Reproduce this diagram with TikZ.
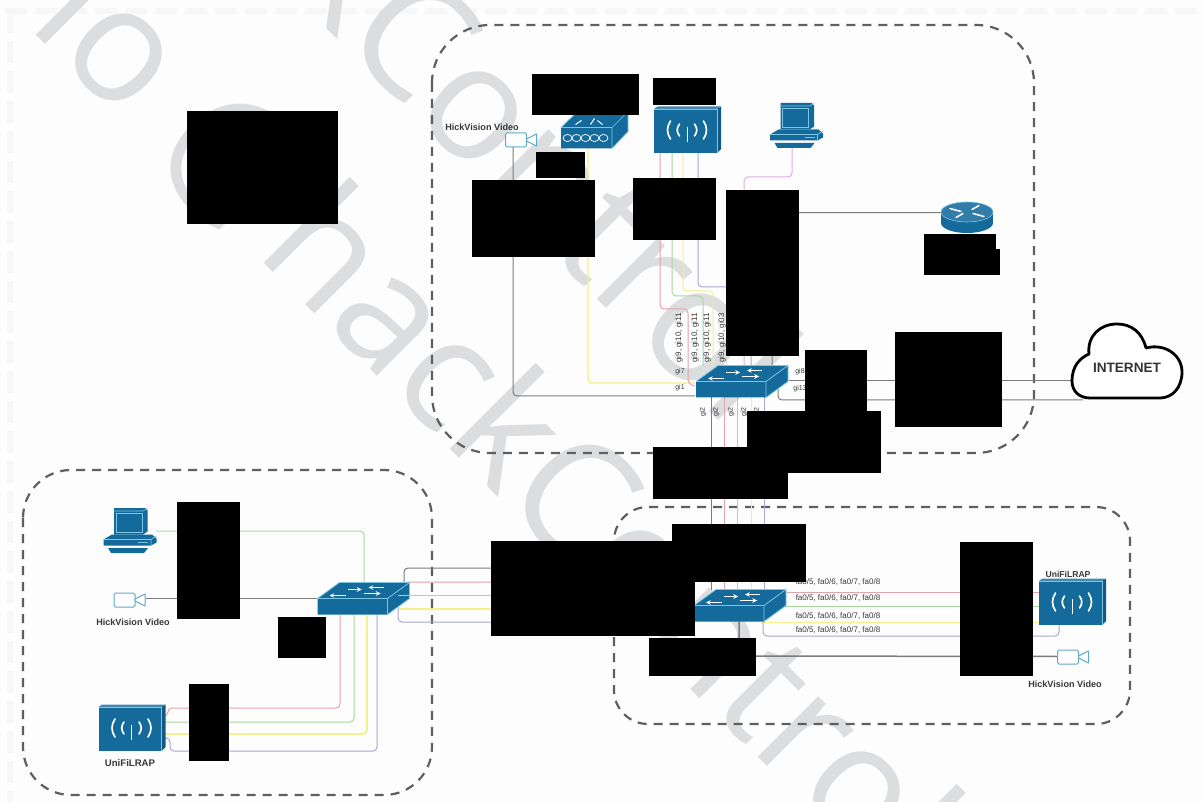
\documentclass[tikz,border=0pt]{standalone}
\usepackage{fontspec}
\setmainfont{Liberation Sans}
\newfontfamily\wmfont{Open Sans}
\definecolor{ciscoblue}{HTML}{156A9C}
\definecolor{ciscoedge}{HTML}{7CC6E4}
\definecolor{camblue}{HTML}{5FA9C9}
\definecolor{lred}{HTML}{E4A3AC}
\definecolor{lgreen}{HTML}{A9D8A2}
\definecolor{lyellow}{HTML}{F4F08C}
\definecolor{lpurple}{HTML}{AAA6D2}
\definecolor{lpink}{HTML}{DDB0DC}
\definecolor{lgray}{HTML}{7C7C7C}
\definecolor{zone}{HTML}{5F5F5F}
\definecolor{wmark}{HTML}{DCDDDF}
\definecolor{lab}{HTML}{383838}
\definecolor{paper}{HTML}{FDFDFE}
\newcommand\boxnode[6]{\node[#1,minimum width={(#5-#3)*1pt},minimum height={(#6-#4)*1pt}] (#2) at ({(#3+#5)/2},{(#4+#6)/2}) {};}
\tikzset{
  anybox/.style={inner sep=0pt,outer sep=0pt,rectangle},
  zonebox/.style={draw=zone,line width=2.2pt,dash pattern=on 9pt off 7pt,rounded corners=#1},
  wire/.style={line width=1pt,rounded corners=4pt},
  wred/.style={wire,draw=lred},
  wgreen/.style={wire,draw=lgreen},
  wyellow/.style={wire,draw=lyellow},
  wpurple/.style={wire,draw=lpurple},
  wpink/.style={wire,draw=lpink},
  wgray/.style={wire,draw=lgray},
  devlabel/.style={font=\fontsize{9.1}{10}\selectfont\bfseries,text=lab,inner sep=0pt},
  portlabel/.style={font=\fontsize{7}{8}\selectfont,text=lab,inner sep=0pt},
  stacklabel/.style={font=\fontsize{8}{9}\selectfont,text=lab,inner sep=0pt},
  falabel/.style={font=\fontsize{8}{9}\selectfont,text=lab,inner sep=0pt},
  camicon/.pic={
    \draw[camblue,fill=white,line width=1pt,rounded corners=1.5pt] (-16,-7) rectangle (5,7);
    \draw[camblue,fill=white,line width=1pt,line join=round] (5,-1) -- (15,-6) -- (15,6) -- (5,1) -- cycle;
  },
  apicon/.pic={
    \fill[ciscoblue!85!black] (29.5,-21) -- (33.5,-23.5) -- (33.5,19) -- (29.5,23) -- cycle;
    \fill[ciscoblue!80!white] (-33.5,-21) -- (-30,-23.5) -- (33.5,-23.5) -- (29.5,-21) -- cycle;
    \fill[ciscoblue] (-33.5,-21) rectangle (29.5,23);
    \draw[ciscoedge,line width=.6pt] (-33.5,-21) -- (29.5,-21) -- (29.5,23);
    \draw[white,line width=1.7pt,line cap=round]
      (-17,-9) .. controls (-21,-3) and (-21,3) .. (-17,9)
      (-8,-6) .. controls (-11,-2) and (-11,2) .. (-8,6)
      (7,-6) .. controls (10,-2) and (10,2) .. (7,6)
      (16,-9) .. controls (20,-3) and (20,3) .. (16,9);
    \draw[white,line width=.7pt] (-.5,-3) -- (-.5,12);
  },
  switchicon/.pic={
    \fill[ciscoblue] (-46,0) -- (-24,-16) -- (46,-16) -- (46,0) -- (24,16) -- (-46,16) -- cycle;
    \draw[ciscoedge,line width=.8pt,line join=round] (-46,0) -- (-24,-16) -- (46,-16) -- (46,0) -- (24,16) -- (24,0) -- (46,-16) (24,0) -- (-46,0);
    \draw[white,line width=1.1pt,-stealth] (-16,-9) -- (-2,-9);
    \draw[white,line width=1.1pt,stealth-] (-34,-3) -- (-18,-3);
    \draw[white,line width=1.1pt,stealth-] (5,-11) -- (20,-11);
    \draw[white,line width=1.1pt,-stealth] (0,-5) -- (17,-5);
  },
  wallicon/.pic={
    \fill[ciscoblue] (-33.5,-3) -- (-17,-19) -- (33.5,-19) -- (33.5,1) -- (17.5,18) -- (-33.5,18) -- cycle;
    \draw[ciscoedge,line width=.7pt,line join=round] (-33.5,-3) -- (-17,-19) -- (33.5,-19) -- (33.5,1) -- (17.5,18) -- (17.5,-3) -- (33.5,-19) (17.5,-3) -- (-33.5,-3);
    \foreach \wx in {-27,-18,-9,0,9}
      \draw[white,line width=.7pt] (\wx,7.5) ellipse [x radius=4.4pt,y radius=3.6pt];
    \draw[white,line width=1pt] (-19,-6) -- (-13,-10) (-4,-6) -- (0,-12) (8,-6) -- (3,-10);
  },
  pcicon/.pic={
    \fill[ciscoblue] (-16,-22.5) -- (15,-22.5) -- (17.5,-20) -- (17.5,1) -- (13,4) -- (-16,4) -- cycle;
    \draw[ciscoedge,line width=.8pt] (-14,-17) rectangle (12,1.5);
    \draw[ciscoedge,line width=.6pt] (-16,-19.5) -- (13,-19.5) -- (17.5,-22);
    \fill[ciscoblue] (-26.5,9) -- (-18,4) -- (22,4) -- (26.5,8) -- (26.5,12) -- (21,15) -- (-26.5,15) -- cycle;
    \draw[ciscoedge,line width=.7pt] (-26.5,9) -- (21,9) -- (26.5,5.5) (21,9) -- (21,15);
    \draw[ciscoedge,line width=.7pt] (8,12) -- (18,12);
    \fill[ciscoblue] (-22,17.5) -- (18,17.5) -- (14,22.5) -- (-19,22.5) -- cycle;
  },
  routericon/.pic={
    \fill[ciscoblue] (0,5.5) ellipse [x radius=26pt,y radius=10pt];
    \fill[ciscoblue] (-26,-5.5) rectangle (26,5.5);
    \fill[ciscoblue!88!white,draw=ciscoedge,line width=.6pt] (0,-5.5) ellipse [x radius=26pt,y radius=10pt];
    \draw[white,line width=1.5pt,line cap=round] (-17,-9) -- (-6,-6) (17,-1) -- (6,-4) (12,-12) -- (5,-8) (-11,0) -- (-4,-4);
  }
}
\begin{document}
\begin{tikzpicture}[x=1pt,y=-1pt]
\useasboundingbox (0,0) rectangle (1203,802);
\clip (0,0) rectangle (1203,802);
\fill[paper] (0,0) rectangle (1203,802);
% faint frame of the scan
\draw[black!3,line width=6pt,dash pattern=on 22pt off 8pt] (5,11) -- (1203,11);
\draw[black!3,line width=6pt,dash pattern=on 22pt off 8pt] (10,11) -- (10,802);
% watermark
\node[anchor=base west,rotate=-45,inner sep=0pt,text=wmark,font=\wmfont\fontsize{160}{160}\selectfont] (wmone) at (26,25) {io @hackControl};
\node[anchor=base west,rotate=-45,inner sep=0pt,text=wmark,font=\wmfont\fontsize{160}{160}\selectfont] (wmtwo) at (279,-19) {kControl};
% device places
\boxnode{anybox}{camT}{506}{133}{537}{147}
\boxnode{anybox}{wallT}{561}{112}{628}{149}
\boxnode{anybox}{apT}{654}{107}{721}{153}
\boxnode{anybox}{pcT}{770}{103}{823}{148}
\boxnode{anybox}{routerT}{941}{202}{993}{233}
\boxnode{anybox}{swT}{695}{366}{789}{397}
\boxnode{anybox}{swL}{317}{582}{410}{615}
\boxnode{anybox}{swR}{693}{590}{787}{621}
\boxnode{anybox}{pcL}{104}{508}{156}{553}
\boxnode{anybox}{camL}{114}{593}{146}{607}
\boxnode{anybox}{apL}{99}{705}{165}{751}
\boxnode{anybox}{apR}{1039}{579}{1106}{625}
\boxnode{anybox}{camR}{1057}{650}{1090}{664}
\coordinate (cloudA) at (1072,381);
\coordinate (cloudB) at (1083,400);
% redaction boxes, placed now, painted last
\boxnode{anybox}{rA}{187}{111}{338}{224}
\boxnode{anybox}{rB}{532}{74}{639}{115}
\boxnode{anybox}{rC}{653}{78}{716}{105}
\boxnode{anybox}{rD}{536}{152}{585}{178}
\boxnode{anybox}{rE}{472}{180}{595}{257}
\boxnode{anybox}{rF}{633}{178}{716}{240}
\boxnode{anybox}{rG}{726}{190}{799}{356}
\boxnode{anybox}{rHa}{924}{234}{996}{250}
\boxnode{anybox}{rHb}{924}{249}{1000}{275}
\boxnode{anybox}{rI}{805}{350}{867}{415}
\boxnode{anybox}{rJ}{895}{332}{1002}{427}
\boxnode{anybox}{rK}{747}{411}{881}{473}
\boxnode{anybox}{rL}{653}{447}{788}{499}
\boxnode{anybox}{rM}{672}{524}{806}{582}
\boxnode{anybox}{rN}{491}{541}{695}{636}
\boxnode{anybox}{rO}{649}{638}{756}{676}
\boxnode{anybox}{rP}{960}{542}{1033}{676}
\boxnode{anybox}{rQ}{177}{502}{240}{619}
\boxnode{anybox}{rR}{278}{617}{326}{658}
\boxnode{anybox}{rS}{189}{684}{229}{761}
% zones
\draw[zonebox=58pt] (432,25) rectangle (1034,453);
\draw[zonebox=48pt] (23,470) rectangle (432,795);
\draw[zonebox=34pt] (614,507) rectangle (1130,724);
% top zone wires
\draw[wgray] (camT.south -| 513,0) -- (513,396) -- (swT.west |- 0,396);
\draw[wyellow,line width=1.4pt] (wallT.south -| 588,0) -- (588,383) -- (swT.west |- 0,383);
\draw[wred] (apT.south -| 660,0) -- (660,309) -- (688,309) -- (688,384) -- (swT.west |- 0,386);
\draw[wgreen] (apT.south -| 672,0) -- (672,296) -- (703,296) -- (swT.north -| 703,0);
\draw[wyellow] (apT.south -| 683,0) -- (683,291) -- (713,291) -- (swT.north -| 713,0);
\draw[wpurple] (apT.south -| 698,0) -- (698,287) -- (751,287) -- (swT.north -| 751,0);
\draw[wpink] (pcT.south -| 792,0) -- (792,177) -- (744,177) -- (swT.north -| 744,0);
\draw[wgray] (routerT.west |- 0,212.7) -- (772,212.7) -- (swT.north -| 772,0);
\draw[wgray] (swT.east |- 0,381) -- (cloudA);
\draw[wgray] (778,388) -- (778,400) -- (cloudB);
% between top switch and right switch
\draw[wgray] (swT.south -| 711,0) -- (swR.north -| 711,0);
\draw[wred] (swT.south -| 724,0) -- (724,600);
\draw[wgreen] (swT.south -| 737,0) -- (737,600);
\draw[wyellow] (swT.south -| 751,0) -- (751,600);
\draw[wpurple] (swT.south -| 764,0) -- (764,600);
% right zone wires
\draw[wred] (swR.east |- 0,592) -- (apR.west |- 0,592);
\draw[wgreen] (765,606) -- (apR.west |- 0,606);
\draw[wyellow] (762,622) -- (apR.west |- 0,622);
\draw[wpurple] (763,620) -- (763,636) -- (1059,636) -- (apR.south -| 1059,0);
\draw[wgray,line width=1.5pt] (swR.south -| 739,0) -- (739,656) -- (camR.west |- 0,656.5);
% left zone wires
\draw[wgreen] (pcL.east |- 0,531) -- (364,531) -- (swL.north -| 364,0);
\draw[wgray] (camL.east |- 0,598) -- (swL.west |- 0,598);
\draw[wred] (apL.east |- 0,716) -- (168,716) -- (168,708) -- (340,708) -- (swL.south -| 340,0);
\draw[wgreen] (apL.east |- 0,722) -- (354,722) -- (swL.south -| 354,0);
\draw[wyellow,line width=1.9pt] (apL.east |- 0,734) -- (367,734) -- (swL.south -| 367,0);
\draw[wpurple] (apL.east |- 0,738) -- (170,738) -- (170,751) -- (377,751) -- (swL.south -| 377,0);
\draw[wgray] (404,592) -- (404,568) -- (rN.west |- 0,568);
\draw[wred] (404,590) -- (404,582) -- (rN.west |- 0,582);
\draw[wpurple] (398,606) -- (398,622) -- (rN.west |- 0,622);
% icons
\path (camT) pic {camicon};
\path (wallT) pic {wallicon};
\path (apT) pic {apicon};
\path (pcT) pic {pcicon};
\path (routerT) pic {routericon};
\path (swT) pic {switchicon};
\path (swL) pic {switchicon};
\path (swR) pic {switchicon};
\path (pcL) pic {pcicon};
\path (camL) pic {camicon};
\path (apL) pic {apicon};
\path (apR) pic {apicon};
\path (camR) pic {camicon};
% wires that lie over the left switch's side
\draw[wgreen] (398,595) -- (rN.west |- 0,595);
\draw[wyellow,line width=1.6pt] (399,609) -- (rN.west |- 0,609);
% cloud
\draw[line width=2.8pt,fill=white,line join=round] (1089,354) .. controls (1087,336) and (1100,324) .. (1117,324) .. controls (1131,324) and (1142,332) .. (1146,348) .. controls (1165,343) and (1182,355) .. (1182,372) .. controls (1182,388) and (1172,398) .. (1160,398) -- (1090,398) .. controls (1079,398) and (1072,391) .. (1072,381) .. controls (1072,366) and (1080,358) .. (1089,354) -- cycle;
\node[font=\fontsize{13.6}{15}\selectfont\bfseries,text=black!80,inner sep=0pt] (netlabel) at (1127,368) {INTERNET};
% labels
\node[devlabel] (lbCamT) at (482,127) {HickVision Video};
\node[devlabel] (lbCamR) at (1065,684) {HickVision Video};
\node[devlabel] (lbCamL) at (133,622) {HickVision Video};
\node[devlabel,font=\fontsize{8.6}{10}\selectfont\bfseries] (lbApR) at (1068,574) {UniFiLRAP};
\node[devlabel,font=\fontsize{9.6}{11}\selectfont\bfseries] (lbApL) at (130,763) {UniFiLRAP};
\node[stacklabel,rotate=90] (pa) at (679,338) {gi9, gi10, gi11};
\node[stacklabel,rotate=90] (pb) at (695,338) {gi9, gi10, gi11};
\node[stacklabel,rotate=90] (pc) at (707,338) {gi9, gi10, gi11};
\node[stacklabel,rotate=90] (pd) at (722,338) {gi9, gi10, gi03};
\node[portlabel] (pe) at (680,372) {gi7};
\node[portlabel] (pf) at (680,388) {gi1};
\node[portlabel] (pg) at (800,372) {gi8};
\node[portlabel] (ph) at (800,389) {gi13};
\node[portlabel,rotate=90] (pi) at (703,412) {gi2};
\node[portlabel,rotate=90] (pj) at (716,412) {gi2};
\node[portlabel,rotate=90] (pk) at (731,412) {gi2};
\node[portlabel,rotate=90] (pl) at (744,412) {gi2};
\node[portlabel,rotate=90] (pm) at (757,412) {gi2};
\node[falabel] (fa) at (838,582) {fa0/5, fa0/6, fa0/7, fa0/8};
\node[falabel] (fb) at (838,598) {fa0/5, fa0/6, fa0/7, fa0/8};
\node[falabel] (fc) at (838,616) {fa0/5, fa0/6, fa0/7, fa0/8};
\node[falabel] (fd) at (838,630) {fa0/5, fa0/6, fa0/7, fa0/8};
% paint the redaction boxes
\foreach \rb in {rA,rB,rC,rD,rE,rF,rG,rHa,rHb,rI,rJ,rK,rL,rM,rN,rO,rP,rQ,rR,rS}
  \fill[black] (\rb.north west) rectangle (\rb.south east);
\end{tikzpicture}
\end{document}
